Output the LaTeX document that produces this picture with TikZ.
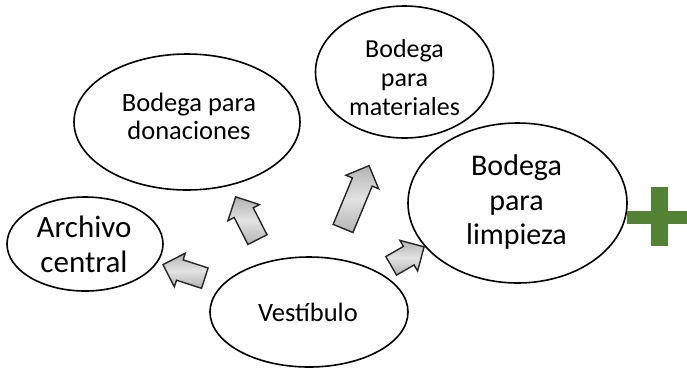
\documentclass[tikz,border=0pt]{standalone}
\usepackage{fontspec}
\setmainfont{Carlito}
\usetikzlibrary{shapes.geometric,shapes.arrows}
\definecolor{plusgreen}{RGB}{84,130,53}
\tikzset{
  bubble/.style={ellipse, draw=black, line width=1.6pt, inner sep=0pt, fill=white},
  bubbletext/.style={align=center, inner sep=0pt},
  blockarrow/.style={single arrow, draw=black!85, line width=1.4pt, inner xsep=0pt, inner ysep=10pt,
    single arrow head extend=7pt, single arrow tip angle=90,
    top color=gray!60, bottom color=gray!60, middle color=gray!22},
}
\begin{document}
\begin{tikzpicture}[x=1pt,y=-1pt]
\useasboundingbox (0,0) rectangle (687,368);
\node[bubble, minimum width=156pt, minimum height=94pt] (archivo) at (85,244) {};
\node[bubble, minimum width=226pt, minimum height=136pt] (donaciones) at (187,122) {};
\node[bubble, minimum width=178pt, minimum height=132pt] (materiales) at (404.5,72) {};
\node[bubble, minimum width=219pt, minimum height=160pt] (limpieza) at (517.5,203) {};
\node[bubble, minimum width=198pt, minimum height=110pt] (vestibulo) at (309,312) {};
\node[bubbletext, font=\fontsize{31}{35}\selectfont] (tarchivo) at (84,244) {Archivo\\central};
\node[bubbletext, font=\fontsize{26.5}{27.5}\selectfont] (tdonaciones) at (189,116.5) {Bodega para\\donaciones};
\node[bubbletext, font=\fontsize{26}{29}\selectfont] (tmateriales) at (404.5,78) {Bodega\\para\\materiales};
\node[bubbletext, font=\fontsize{30}{34.5}\selectfont] (tlimpieza) at (516.5,202) {Bodega\\para\\limpieza};
\node[bubbletext, font=\fontsize{26.5}{30}\selectfont] (tvestibulo) at (308,312) {Vestíbulo};
\node[blockarrow, minimum height=44pt, rotate=162] (a1) at (189,273) {};
\node[blockarrow, minimum height=48pt, rotate=117] (a2) at (249,223) {};
\node[blockarrow, minimum height=68pt, rotate=67.5] (a3) at (354,202) {};
\node[blockarrow, minimum height=38pt, rotate=30] (a4) at (403,259) {};
\fill[plusgreen] (651,187) rectangle (668,246);
\fill[plusgreen] (627,211) rectangle (687,224);
\end{tikzpicture}
\end{document}
